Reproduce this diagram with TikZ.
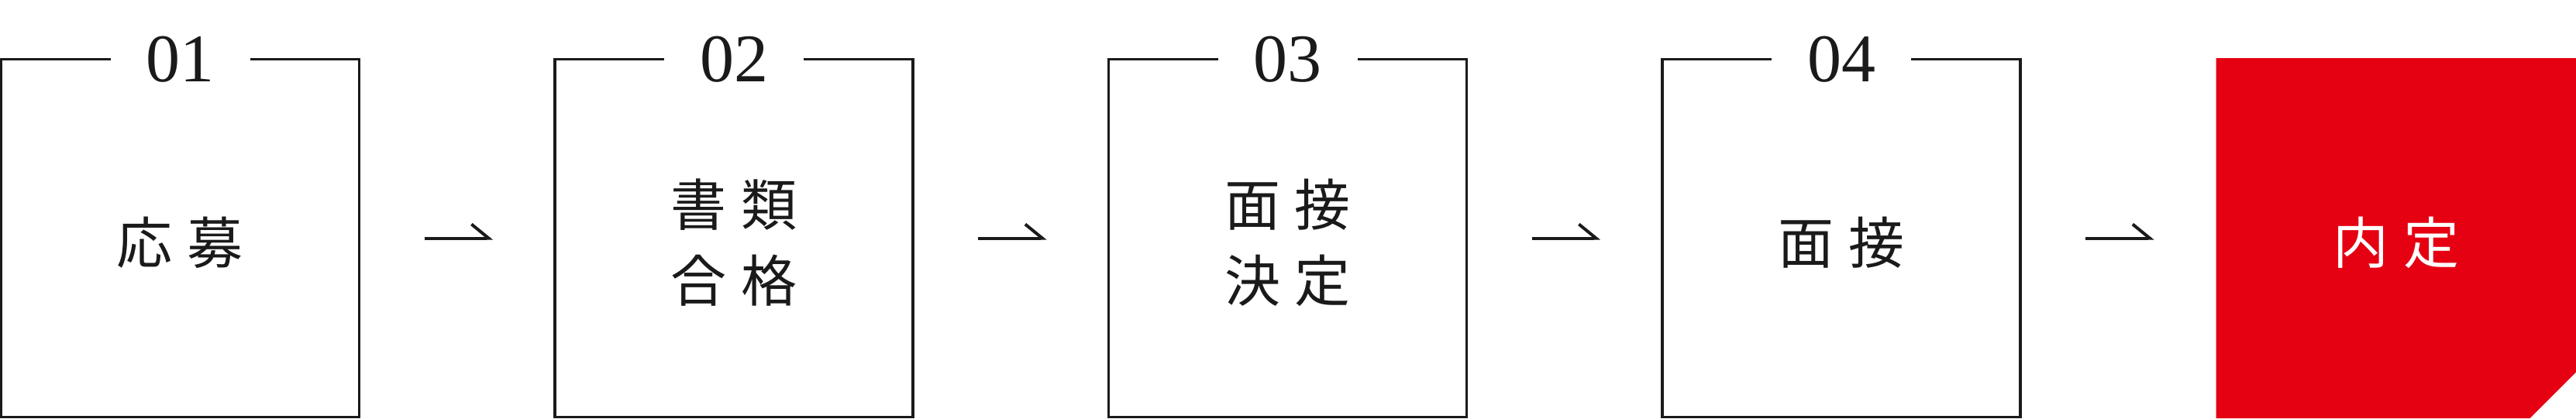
\documentclass[tikz,border=0pt]{standalone}
\usepackage{fontspec}
\newfontfamily\jpfont{Noto Sans CJK JP}
\newfontfamily\numfont{Liberation Serif}
\usetikzlibrary{positioning}
\usetikzlibrary{arrows.meta}
\definecolor{ink}{HTML}{1A1A1A}
\definecolor{naitei}{HTML}{E50012}
\newcommand{\chgap}{\hspace{4.75pt}}

\begin{document}
\begin{tikzpicture}[node distance=63.125pt,
	box/.style={rectangle,draw=ink,line width=0.8pt,outer sep=0pt,inner sep=0pt,
		minimum size=115.5pt},
	lab/.style={yshift=-1.5pt,text=ink,align=center,
		font=\fontsize{18pt}{24.5pt}\selectfont\jpfont},
	num/.style={fill=white,inner xsep=11.5pt,inner ysep=2pt,text=ink,
		font=\fontsize{22pt}{22pt}\selectfont\numfont},
	flow/.style={draw=ink,line width=1pt,-{Straight Barb[left,length=5.5pt,width=9pt]}}]
	
	\useasboundingbox (0,0) rectangle (831pt,135pt);
	
	\node[box] (b1) at (58.125pt,58.125pt) {};
	\node[box] (b2) [right=of b1] {};
	\node[box] (b3) [right=of b2] {};
	\node[box] (b4) [right=of b3] {};
	\node[box,draw=none,minimum size=116.25pt] (b5) [right=of b4] {};
	
	% last step, red with cut corner
	\fill[naitei] (b5.north west) -- (b5.north east) -- ([yshift=15pt]b5.south east)
		-- ([xshift=-15pt]b5.south east) -- (b5.south west) -- cycle;
	
	\node[lab] (t1) at (b1) {応\chgap 募};
	\node[lab] (t2) at (b2) {書\chgap 類\\合\chgap 格};
	\node[lab] (t3) at (b3) {面\chgap 接\\決\chgap 定};
	\node[lab] (t4) at (b4) {面\chgap 接};
	\node[lab,text=white] (t5) at (b5) {内\chgap 定};
	
	\node[num] (n1) at (b1.north) {01};
	\node[num] (n2) at (b2.north) {02};
	\node[num] (n3) at (b3.north) {03};
	\node[num] (n4) at (b4.north) {04};
	
	\foreach \a/\b in {b1/b2,b2/b3,b3/b4,b4/b5}
		\draw[flow] ([xshift=21pt]\a.east) -- ([xshift=-20pt]\b.west);
\end{tikzpicture}
\end{document}
